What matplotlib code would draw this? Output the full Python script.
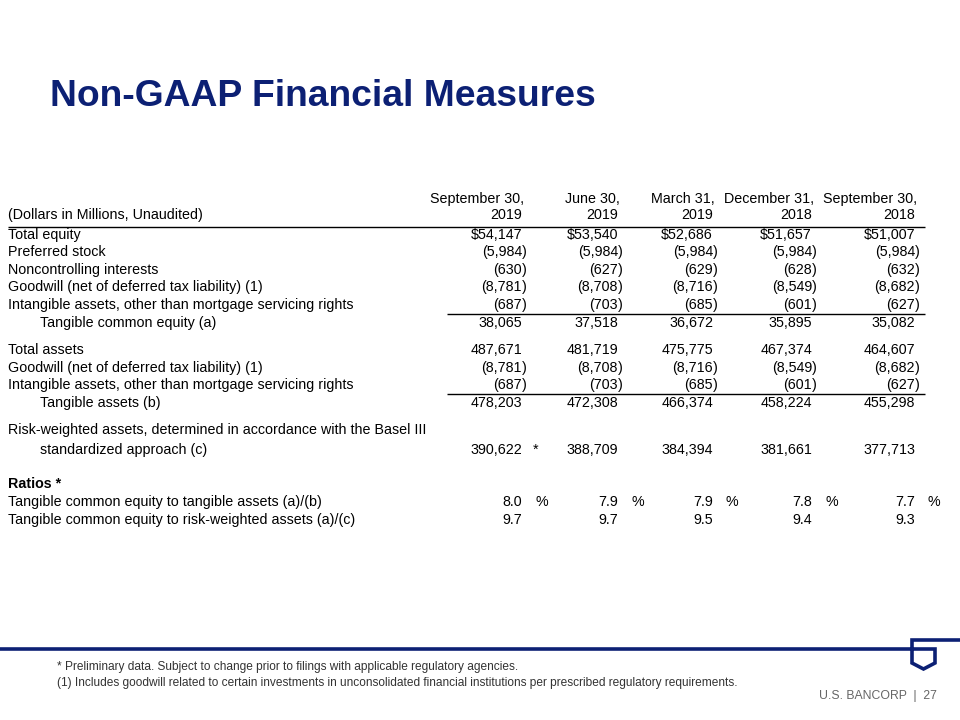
import matplotlib
matplotlib.use("Agg")
import matplotlib.pyplot as plt

plt.rcParams['font.family'] = ['Liberation Sans', 'DejaVu Sans']

NAVY = "#0C2074"
TXT = "#000000"

title = "Non-GAAP Financial Measures"
col_headers = [("September 30,", "2019"), ("June 30,", "2019"), ("March 31,", "2019"),
               ("December 31,", "2018"), ("September 30,", "2018")]
unit_label = "(Dollars in Millions, Unaudited)"

total_equity = [54147, 53540, 52686, 51657, 51007]
preferred_stock = [-5984, -5984, -5984, -5984, -5984]
noncontrolling = [-630, -627, -629, -628, -632]
goodwill = [-8781, -8708, -8716, -8549, -8682]
intangibles = [-687, -703, -685, -601, -627]
tangible_common_equity = [38065, 37518, 36672, 35895, 35082]
total_assets = [487671, 481719, 475775, 467374, 464607]
tangible_assets = [478203, 472308, 466374, 458224, 455298]
risk_weighted = [390622, 388709, 384394, 381661, 377713]
tce_to_ta = [8.0, 7.9, 7.9, 7.8, 7.7]
tce_to_rwa = [9.7, 9.7, 9.5, 9.4, 9.3]

footnotes = ["* Preliminary data. Subject to change prior to filings with applicable regulatory agencies.",
             "(1) Includes goodwill related to certain investments in unconsolidated financial institutions per prescribed regulatory requirements."]
footer = "U.S. BANCORP  |  27"

# rows: (label, values, kind, indent, y)
rows = [
    ("Total equity", total_equity, "dollar", False, 235),
    ("Preferred stock", preferred_stock, "int", False, 252),
    ("Noncontrolling interests", noncontrolling, "int", False, 270),
    ("Goodwill (net of deferred tax liability) (1)", goodwill, "int", False, 287),
    ("Intangible assets, other than mortgage servicing rights", intangibles, "int", False, 305),
    ("Tangible common equity (a)", tangible_common_equity, "int", True, 323),
    ("Total assets", total_assets, "int", False, 350),
    ("Goodwill (net of deferred tax liability) (1)", goodwill, "int", False, 368),
    ("Intangible assets, other than mortgage servicing rights", intangibles, "int", False, 385),
    ("Tangible assets (b)", tangible_assets, "int", True, 403),
    ("Risk-weighted assets, determined in accordance with the Basel III", None, None, False, 430),
    ("standardized approach (c)", risk_weighted, "rwa", True, 450),
    ("Ratios *", None, "bold", False, 484),
    ("Tangible common equity to tangible assets (a)/(b)", tce_to_ta, "pct", False, 502),
    ("Tangible common equity to risk-weighted assets (a)/(c)", tce_to_rwa, "ratio", False, 520),
]

fig = plt.figure(figsize=(9.6, 7.2), dpi=100)
ax = fig.add_axes([0, 0, 1, 1])
ax.set_xlim(0, 960)
ax.set_ylim(720, 0)
ax.axis("off")

ax.text(50, 96, title, fontsize=26.8, fontweight="bold", color=NAVY, ha="left", va="center")

FS = 10.3
LX = 8
IND = 40
R = [522, 618, 713, 812, 915]

for i, (h1, h2) in enumerate(col_headers):
    ax.text(R[i] + 2, 199, h1, fontsize=FS, ha="right", va="center", color=TXT)
    ax.text(R[i], 215, h2, fontsize=FS, ha="right", va="center", color=TXT)
ax.text(LX, 215, unit_label, fontsize=FS, ha="left", va="center", color=TXT)
ax.plot([LX, 925], [226.5, 226.5], color="black", lw=1.0, solid_capstyle="butt")
ax.plot([447, 925], [314, 314], color="black", lw=1.0, solid_capstyle="butt")
ax.plot([447, 925], [394, 394], color="black", lw=1.0, solid_capstyle="butt")

for label, vals, kind, indent, y in rows:
    x0 = IND if indent else LX
    fw = "bold" if kind == "bold" else "normal"
    ax.text(x0, y, label, fontsize=FS, ha="left", va="center", color=TXT, fontweight=fw)
    if vals is None:
        continue
    for i, v in enumerate(vals):
        if kind == "dollar":
            s = "${:,.0f}".format(v)
        elif kind in ("int", "rwa"):
            s = "({:,.0f}".format(-v) if v < 0 else "{:,.0f}".format(v)
        else:
            s = "{:.1f}".format(v)
        ax.text(R[i], y, s, fontsize=FS, ha="right", va="center", color=TXT)
        if kind == "int" and v < 0:
            ax.text(R[i], y, ")", fontsize=FS, ha="left", va="center", color=TXT)
        if kind == "pct":
            ax.text(R[i] + 13, y, "%", fontsize=FS, ha="left", va="center", color=TXT)
        if kind == "rwa" and i == 0:
            ax.text(R[i] + 11, y, "*", fontsize=FS, ha="left", va="center", color=TXT)

# bottom rule and logo
ax.plot([0, 935, 935, 923.5, 912, 912, 960], [649, 649, 663, 669, 663, 640, 640],
        color=NAVY, lw=2.6, solid_joinstyle="miter", solid_capstyle="butt")

fams = ['Liberation Sans Narrow', 'Liberation Sans', 'DejaVu Sans']
ax.text(57, 667, footnotes[0], fontsize=8.6, ha="left", va="center", color="#333333", family=fams)
ax.text(57, 683, footnotes[1], fontsize=8.6, ha="left", va="center", color="#333333", family=fams)
ax.text(937, 696, footer, fontsize=8.8, ha="right", va="center", color="#666666", family=fams)

fig.savefig("out.png", dpi=100)
